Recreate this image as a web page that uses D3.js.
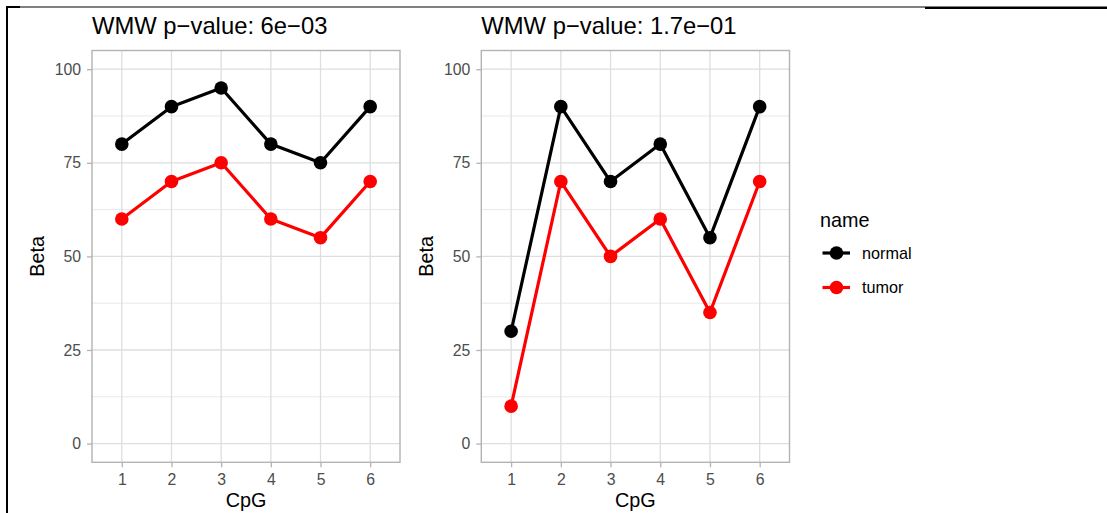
<!DOCTYPE html>
<html>
<head>
<meta charset="utf-8">
<script src="https://cdn.jsdelivr.net/npm/d3@7"></script>
<style>
  html, body { margin: 0; padding: 0; background: #fff; }
  svg { display: block; font-family: "Liberation Sans", Arial, Helvetica, sans-serif; }
</style>
</head>
<body>
<svg id="chart" width="1107" height="513"></svg>
<script>
// CpG positions shared by both panels
const cpg = ["1", "2", "3", "4", "5", "6"];
const yTicks = [0, 25, 50, 75, 100];
const yMinor = [12.5, 37.5, 62.5, 87.5];
const seriesNames = ["normal", "tumor"];
const seriesColors = ["#000000", "#ff0000"];

// Panel A (left)
const titleA = "WMW p\u2212value: 6e\u221203";
const normalA = [80, 90, 95, 80, 75, 90];
const tumorA = [60, 70, 75, 60, 55, 70];

// Panel B (right)
const titleB = "WMW p\u2212value: 1.7e\u221201";
const normalB = [30, 90, 70, 80, 55, 90];
const tumorB = [10, 70, 50, 60, 35, 70];

const svg = d3.select("#chart");

// frame lines along top and left edge
svg.append("line").attr("x1", 6).attr("x2", 20).attr("y1", 7).attr("y2", 7)
  .attr("stroke", "#000").attr("stroke-width", 2);
svg.append("line").attr("x1", 20).attr("x2", 925).attr("y1", 7).attr("y2", 7)
  .attr("stroke", "#000").attr("stroke-width", 1);
svg.append("line").attr("x1", 925).attr("x2", 1107).attr("y1", 7.8).attr("y2", 7.8)
  .attr("stroke", "#000").attr("stroke-width", 2.4);
svg.append("line").attr("x1", 7).attr("x2", 7).attr("y1", 6).attr("y2", 513)
  .attr("stroke", "#000").attr("stroke-width", 2);

const panelTop = 50.5, panelBottom = 462.3;
const y = d3.scaleLinear().domain([-5, 105]).range([panelBottom, panelTop]);
const color = d3.scaleOrdinal().domain(seriesNames).range(seriesColors);

function drawPanel(left, right, title, normal, tumor) {
  const x = d3.scalePoint().domain(cpg).range([left, right]).padding(0.6);
  const g = svg.append("g");

  // minor and major grid
  g.selectAll(".minor").data(yMinor).join("line")
    .attr("x1", left).attr("x2", right)
    .attr("y1", d => y(d)).attr("y2", d => y(d))
    .attr("stroke", "#dedede").attr("stroke-width", 0.7);
  g.selectAll(".majorY").data(yTicks).join("line")
    .attr("x1", left).attr("x2", right)
    .attr("y1", d => y(d)).attr("y2", d => y(d))
    .attr("stroke", "#dedede").attr("stroke-width", 1.3);
  g.selectAll(".majorX").data(cpg).join("line")
    .attr("x1", d => x(d)).attr("x2", d => x(d))
    .attr("y1", panelTop).attr("y2", panelBottom)
    .attr("stroke", "#dedede").attr("stroke-width", 1.3);

  // axes
  const yAxis = d3.axisLeft(y).tickValues(yTicks).tickSize(5).tickPadding(6);
  const ya = g.append("g").attr("transform", `translate(${left},0)`).call(yAxis);
  const xAxis = d3.axisBottom(x).tickSize(5).tickPadding(6);
  const xa = g.append("g").attr("transform", `translate(0,${panelBottom})`).call(xAxis);
  [ya, xa].forEach(a => {
    a.select(".domain").remove();
    a.selectAll(".tick line").attr("stroke", "#b3b3b3").attr("stroke-width", 1.3);
    a.selectAll(".tick text").attr("fill", "#4d4d4d")
      .style("font-size", "15.8px").style("font-family", "'Liberation Sans', Arial, sans-serif");
  });
  xa.selectAll(".tick text").attr("dy", "0.75em");

  // panel border
  g.append("rect").attr("x", left).attr("y", panelTop)
    .attr("width", right - left).attr("height", panelBottom - panelTop)
    .attr("fill", "none").attr("stroke", "#b3b3b3").attr("stroke-width", 1.4);

  // series
  const series = [
    { name: "normal", values: normal },
    { name: "tumor", values: tumor }
  ];
  const line = d3.line().x((d, i) => x(cpg[i])).y(d => y(d));
  series.forEach(s => {
    g.append("path").datum(s.values).attr("d", line)
      .attr("fill", "none").attr("stroke", color(s.name))
      .attr("stroke-width", 3.2).attr("stroke-linejoin", "round");
    g.selectAll(null).data(s.values).join("circle")
      .attr("cx", (d, i) => x(cpg[i])).attr("cy", d => y(d))
      .attr("r", 6.8).attr("fill", color(s.name));
  });

  // titles
  g.append("text").attr("x", left).attr("y", 34).text(title)
    .style("font-size", "23.8px").attr("fill", "#000");
  g.append("text").attr("x", (left + right) / 2).attr("y", 507)
    .attr("text-anchor", "middle").text("CpG")
    .style("font-size", "19.8px").attr("fill", "#000");
  g.append("text")
    .attr("transform", `translate(${left - 48},${(panelTop + panelBottom) / 2}) rotate(-90)`)
    .attr("text-anchor", "middle").text("Beta")
    .style("font-size", "19.8px").attr("fill", "#000");
}

drawPanel(92, 400, titleA, normalA, tumorA);
drawPanel(481.3, 789.5, titleB, normalB, tumorB);

// legend
const lg = svg.append("g");
lg.append("text").attr("x", 820).attr("y", 227).text("name")
  .style("font-size", "19.8px").attr("fill", "#000");
const keyY = [253, 287.5];
seriesNames.forEach((n, i) => {
  lg.append("line").attr("x1", 822.5).attr("x2", 850)
    .attr("y1", keyY[i]).attr("y2", keyY[i])
    .attr("stroke", color(n)).attr("stroke-width", 3.2);
  lg.append("circle").attr("cx", 836.5).attr("cy", keyY[i]).attr("r", 6.8)
    .attr("fill", color(n));
  lg.append("text").attr("x", 862).attr("y", keyY[i]).attr("dy", "0.35em")
    .text(n).style("font-size", "16.2px").attr("fill", "#000");
});
</script>
</body>
</html>
